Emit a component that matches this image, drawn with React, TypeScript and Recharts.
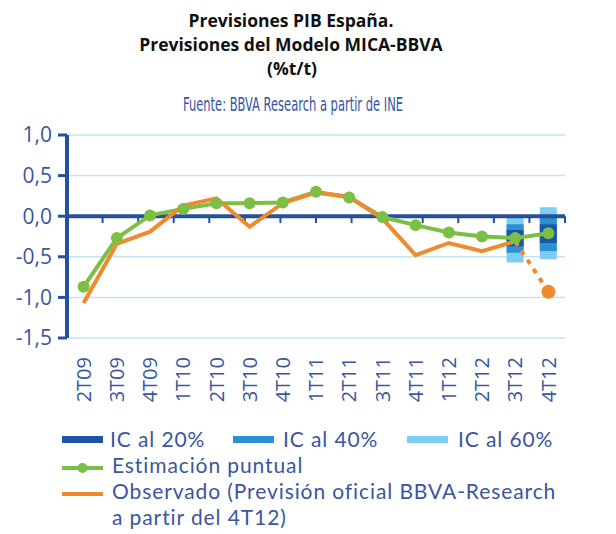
import React from 'react';
import {
  ComposedChart, Line, Bar, XAxis, YAxis, CartesianGrid, ReferenceLine,
} from 'recharts';

const categories = ['2T09', '3T09', '4T09', '1T10', '2T10', '3T10', '4T10', '1T11', '2T11', '3T11', '4T11', '1T12', '2T12', '3T12', '4T12'];
const estimacion = [-0.87, -0.27, 0.01, 0.09, 0.16, 0.16, 0.17, 0.30, 0.23, -0.01, -0.11, -0.20, -0.25, -0.27, -0.21];
const observado: (number | null)[] = [-1.07, -0.34, -0.19, 0.13, 0.22, -0.13, 0.16, 0.29, 0.24, -0.03, -0.48, -0.33, -0.43, -0.31, null];
const prevision: (number | null)[] = [null, null, null, null, null, null, null, null, null, null, null, null, null, -0.31, -0.93];
const ic20: ([number, number] | null)[] = [null, null, null, null, null, null, null, null, null, null, null, null, null, [-0.37, -0.17], [-0.33, -0.10]];
const ic40: ([number, number] | null)[] = [null, null, null, null, null, null, null, null, null, null, null, null, null, [-0.45, -0.10], [-0.43, 0.0]];
const ic60: ([number, number] | null)[] = [null, null, null, null, null, null, null, null, null, null, null, null, null, [-0.57, -0.01], [-0.53, 0.11]];
const yTicks = [-1.5, -1.0, -0.5, 0, 0.5, 1.0];
const boundaries = categories.map((_, i) => i + 1);

const data = categories.map((q, i) => ({
  q,
  est: estimacion[i],
  obs: observado[i],
  prev: prevision[i],
  ic20: ic20[i],
  ic40: ic40[i],
  ic60: ic60[i],
}));

const BLUE_TEXT = '#3a56a0';
const AXIS = '#24509c';
const GREEN = '#7bbf44';
const ORANGE = '#f08a2e';
const C20 = '#1d56a6';
const C40 = '#2b90d4';
const C60 = '#7dcdf3';

const XTick = (props: any) => {
  const { x, y, payload } = props;
  return (
    <text
      x={x}
      y={y}
      transform={`rotate(-90, ${x}, ${y})`}
      textAnchor="end"
      dy="0.36em"
      fontFamily="'Open Sans', sans-serif"
      fontSize={20}
      fill={BLUE_TEXT}
    >
      {payload.value}
    </text>
  );
};

const PrevDot = (props: any) => {
  const { cx, cy, index } = props;
  if (index !== categories.length - 1 || cx == null || cy == null) return <g key={`pd-${index}`} />;
  return <circle key={`pd-${index}`} cx={cx} cy={cy} r={7} fill={ORANGE} />;
};

const fmt = (v: number) => v.toFixed(1).replace('.', ',');

export default function App() {
  const legendFont = "Lato, 'Open Sans', sans-serif";
  return (
    <div style={{ position: 'absolute', left: 0, top: 0, width: 616, height: 534, background: '#fff' }}>
      <div style={{ position: 'absolute', left: 0, top: 0 }}>
        <ComposedChart
          width={616}
          height={410}
          data={data}
          margin={{ top: 135, right: 51, bottom: 0, left: 16 }}
          barGap={-17}
        >
          <CartesianGrid vertical={false} stroke="#c4e3f4" strokeWidth={1.5} />
          <XAxis
            dataKey="q"
            interval={0}
            tickLine={false}
            axisLine={false}
            tickSize={0}
            tickMargin={19}
            height={72}
            tick={<XTick />}
          />
          <XAxis xAxisId="num" type="number" domain={[0, 15]} hide allowDataOverflow />
          <YAxis
            domain={[-1.5, 1]}
            ticks={yTicks}
            width={51}
            tickFormatter={fmt}
            axisLine={{ stroke: AXIS, strokeWidth: 4 }}
            tickLine={{ stroke: AXIS, strokeWidth: 3 }}
            tickSize={9}
            tickMargin={6}
            tick={{ fill: BLUE_TEXT, fontSize: 21, fontFamily: "'Open Sans', sans-serif" }}
            allowDataOverflow
          />
          <Bar dataKey="ic60" fill={C60} barSize={17} isAnimationActive={false} />
          <Bar dataKey="ic40" fill={C40} barSize={17} isAnimationActive={false} />
          <Bar dataKey="ic20" fill={C20} barSize={17} isAnimationActive={false} />
          <ReferenceLine y={0} stroke={AXIS} strokeWidth={4} />
          {boundaries.map((b) => (
            <ReferenceLine
              key={`b-${b}`}
              xAxisId="num"
              segment={[{ x: b, y: 0 }, { x: b, y: -0.085 }]}
              stroke={AXIS}
              strokeWidth={2}
            />
          ))}
          <Line
            dataKey="est"
            stroke={GREEN}
            strokeWidth={4}
            dot={{ r: 6, fill: GREEN, stroke: 'none' }}
            isAnimationActive={false}
          />
          <Line
            dataKey="obs"
            stroke={ORANGE}
            strokeWidth={4}
            dot={false}
            isAnimationActive={false}
          />
          <Line
            dataKey="prev"
            stroke={ORANGE}
            strokeWidth={4}
            strokeDasharray="5 6"
            dot={<PrevDot />}
            isAnimationActive={false}
          />
        </ComposedChart>
      </div>
      <svg width={616} height={534} style={{ position: 'absolute', left: 0, top: 0, pointerEvents: 'none' }}>
        <g fontFamily="'Open Sans', sans-serif" fontWeight="bold" fontSize={17.5} fill="#111" textAnchor="middle">
          <text x={291} y={27}>Previsiones PIB España.</text>
          <text x={291} y={51}>Previsiones del Modelo MICA-BBVA</text>
          <text x={292} y={75}>(%t/t)</text>
        </g>
        <text
          x={293}
          y={111}
          textAnchor="middle"
          fontFamily="'Liberation Sans Narrow', 'DejaVu Sans Condensed', sans-serif"
          fontSize={20}
          fill="#3355a5"
          textLength={220}
          lengthAdjust="spacingAndGlyphs"
        >
          Fuente: BBVA Research a partir de INE
        </text>
        <g fontFamily={legendFont} fontSize={21} letterSpacing={0.9} fill={BLUE_TEXT}>
          <rect x={62} y={436} width={41} height={7} fill={C20} />
          <text x={110} y={447}>IC al 20%</text>
          <rect x={233} y={436} width={41} height={7} fill={C40} />
          <text x={283} y={447}>IC al 40%</text>
          <rect x={407} y={436} width={41} height={7} fill={C60} />
          <text x={458} y={447}>IC al 60%</text>
          <line x1={62} y1={468} x2={103} y2={468} stroke={GREEN} strokeWidth={4} />
          <circle cx={82.5} cy={468} r={5} fill={GREEN} />
          <text x={112} y={473}>Estimación puntual</text>
          <line x1={62} y1={494} x2={103} y2={494} stroke={ORANGE} strokeWidth={4} />
          <text x={112} y={499}>Observado (Previsión oficial BBVA-Research</text>
          <text x={112} y={525}>a partir del 4T12)</text>
        </g>
      </svg>
    </div>
  );
}
